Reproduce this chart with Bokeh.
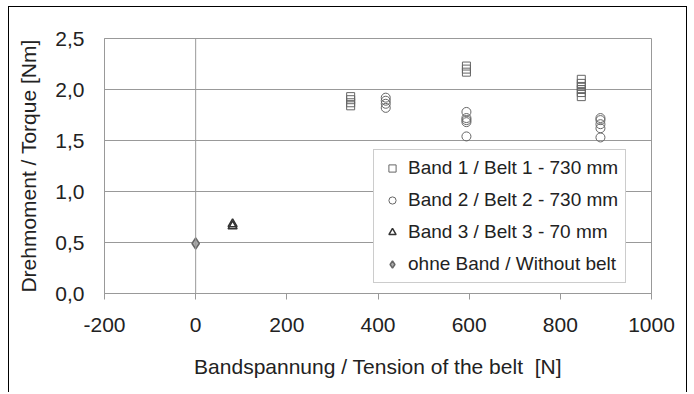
from bokeh.plotting import figure
from bokeh.models import Range1d, Span, Legend, LegendItem, FixedTicker
from bokeh.embed import file_html
from bokeh.resources import INLINE

# ---- data ----
belt1_x = [340, 340, 340, 340, 594, 594, 594, 846, 846, 846, 846, 846, 846]
belt1_y = [1.84, 1.87, 1.90, 1.93, 2.17, 2.20, 2.23, 1.93, 1.97, 2.00, 2.03, 2.06, 2.10]
belt2_x = [417, 417, 417, 417, 594, 594, 594, 594, 594, 888, 888, 888, 888, 888]
belt2_y = [1.82, 1.86, 1.89, 1.92, 1.54, 1.68, 1.70, 1.72, 1.78, 1.53, 1.62, 1.66, 1.70, 1.72]
belt3_x = [81, 81]
belt3_y = [0.66, 0.68]
none_x = [0]
none_y = [0.49]

labels = ["Band 1 / Belt 1 - 730 mm", "Band 2 / Belt 2 - 730 mm",
          "Band 3 / Belt 3 - 70 mm", "ohne Band / Without belt"]
x_ticks = [-200, 0, 200, 400, 600, 800, 1000]
x_tick_labels = ["-200", "0", "200", "400", "600", "800", "1000"]
y_ticks = [0.0, 0.5, 1.0, 1.5, 2.0, 2.5]
y_tick_labels = ["0,0", "0,5", "1,0", "1,5", "2,0", "2,5"]
x_label = "Bandspannung / Tension of the belt \u00a0[N]"
y_label = "Drehmoment / Torque [Nm]"

FONT = "Liberation Sans"
TXT = "#222222"
GRID = "#999999"
MK = "#666666"

p = figure(width=679, height=386, output_backend="svg", toolbar_location=None,
           x_range=Range1d(-200, 1000), y_range=Range1d(0, 2.5),
           min_border_left=95, min_border_right=37, min_border_top=31, min_border_bottom=100)
p.styles = {"border-left": "1px solid black", "border-top": "1px solid black",
            "border-right": "1px solid black", "margin-left": "8px", "margin-top": "6px"}

p.outline_line_color = GRID
p.outline_line_width = 1
p.background_fill_color = "white"
p.border_fill_color = "white"

p.xgrid.visible = False
p.ygrid.ticker = FixedTicker(ticks=y_ticks)
p.ygrid.grid_line_color = GRID
p.ygrid.grid_line_width = 1

vline = Span(location=0, dimension="height", line_color=GRID, line_width=1)
p.add_layout(vline)

xa = p.xaxis[0]
xa.ticker = FixedTicker(ticks=x_ticks)
xa.major_label_overrides = {t: l for t, l in zip(x_ticks, x_tick_labels)}
xa.axis_line_color = GRID
xa.major_tick_line_color = GRID
xa.major_tick_out = 6
xa.major_tick_in = 0
xa.minor_tick_line_color = None
xa.major_label_text_font = FONT
xa.major_label_text_font_size = "21px"
xa.major_label_text_color = TXT
xa.major_label_standoff = 18
xa.axis_label = x_label
xa.axis_label_text_font = FONT
xa.axis_label_text_font_size = "21px"
xa.axis_label_text_font_style = "normal"
xa.axis_label_text_color = TXT
xa.axis_label_standoff = 20

ya = p.yaxis[0]
ya.ticker = FixedTicker(ticks=y_ticks)
ya.major_label_overrides = {t: l for t, l in zip(y_ticks, y_tick_labels)}
ya.axis_line_color = GRID
ya.major_tick_line_color = None
ya.major_tick_out = 0
ya.major_tick_in = 0
ya.minor_tick_line_color = None
ya.major_label_text_font = FONT
ya.major_label_text_font_size = "21px"
ya.major_label_text_color = TXT
ya.major_label_standoff = 20
ya.axis_label = y_label
ya.axis_label_text_font = FONT
ya.axis_label_text_font_size = "21px"
ya.axis_label_text_font_style = "normal"
ya.axis_label_text_color = TXT
ya.axis_label_standoff = 12

r1 = p.scatter(belt1_x, belt1_y, marker="square", size=8, fill_color=None,
               line_color=MK, line_width=1)
r2 = p.scatter(belt2_x, belt2_y, marker="circle", size=9, fill_color=None,
               line_color=MK, line_width=1)
r3 = p.scatter(belt3_x, belt3_y, marker="triangle", size=9, fill_color=None,
               line_color="#333333", line_width=1.5)
r4 = p.scatter(none_x, none_y, marker="diamond", size=11, fill_color="#aaaaaa",
               line_color=MK, line_width=1.5)

legend = Legend(items=[LegendItem(label=labels[0], renderers=[r1]),
                       LegendItem(label=labels[1], renderers=[r2]),
                       LegendItem(label=labels[2], renderers=[r3]),
                       LegendItem(label=labels[3], renderers=[r4])],
                location=(269, 10))
legend.label_text_font = FONT
legend.label_text_font_size = "19px"
legend.label_text_color = TXT
legend.border_line_color = GRID
legend.border_line_width = 1
legend.background_fill_alpha = 1
legend.padding = 7
legend.spacing = 10
legend.label_height = 18
legend.glyph_height = 18
legend.glyph_width = 22
legend.label_standoff = 5
legend.margin = 0
p.add_layout(legend)

open("out.html", "w").write(file_html(p, INLINE))
